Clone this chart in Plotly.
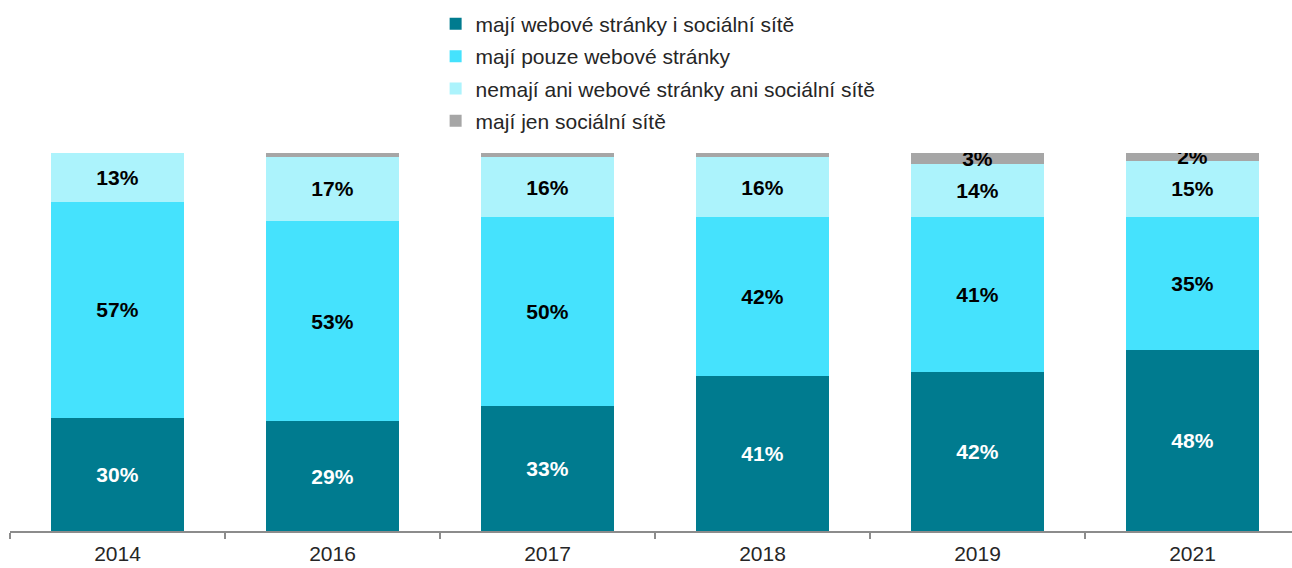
import plotly.graph_objects as go

years = ["2014", "2016", "2017", "2018", "2019", "2021"]
web_and_social = [30, 29, 33, 41, 42, 48]
web_only = [57, 53, 50, 42, 41, 35]
neither = [13, 17, 16, 16, 14, 15]
social_only = [0, 1, 1, 1, 3, 2]
social_only_labelled = [False, False, False, False, True, True]

series = [
    ("mají webové stránky i sociální sítě", web_and_social, "#007B8F", "white", [True] * 6),
    ("mají pouze webové stránky", web_only, "#45E2FD", "black", [True] * 6),
    ("nemají ani webové stránky ani sociální sítě", neither, "#ACF3FC", "black", [True] * 6),
    ("mají jen sociální sítě", social_only, "#A6A6A6", "black", social_only_labelled),
]

FONT = "Liberation Sans, Arial, sans-serif"

x = list(range(len(years)))
fig = go.Figure()
for i, (name, vals, color, tcolor, show) in enumerate(series):
    fig.add_trace(go.Bar(
        x=x, y=vals, name=name, legendgroup=f"g{i}",
        marker=dict(color=color, line=dict(width=0)),
        width=0.62,
        text=[f"{v}%" if s else "" for v, s in zip(vals, show)],
        textposition="inside",
        insidetextanchor="middle",
        textangle=0,
        constraintext="none",
        textfont=dict(family=FONT, size=21, color=tcolor, weight="bold"),
        hoverinfo="skip",
    ))

fig.update_layout(
    barmode="stack",
    width=1292, height=568,
    margin=dict(l=10, r=0, t=153, b=37),
    plot_bgcolor="white", paper_bgcolor="white",
    font=dict(family=FONT, size=21, color="#262626"),
    uniformtext=dict(mode="show", minsize=21),
    showlegend=True,
    legend=dict(
        x=0.332, y=1.395, xanchor="left", yanchor="top",
        traceorder="grouped", itemwidth=30,
        font=dict(size=21, color="#262626"),
        tracegroupgap=2, itemsizing="constant",
    ),
    xaxis=dict(
        range=[-0.5, -0.5 + 1282 / 215],
        tickvals=x, ticktext=years, ticks="",
        ticklabelstandoff=3,
        showline=True, linecolor="#8C8C8C", linewidth=1.5,
        showgrid=False, zeroline=False,
        tickfont=dict(size=21, color="#262626"),
        minor=dict(tickvals=[i - 0.5 for i in range(len(years) + 1)], ticks="outside",
                   ticklen=6, tickcolor="#8C8C8C", tickwidth=1.5, showgrid=False),
    ),
    yaxis=dict(range=[0, 100], visible=False, showgrid=False),
)

fig.write_html("out.html")
